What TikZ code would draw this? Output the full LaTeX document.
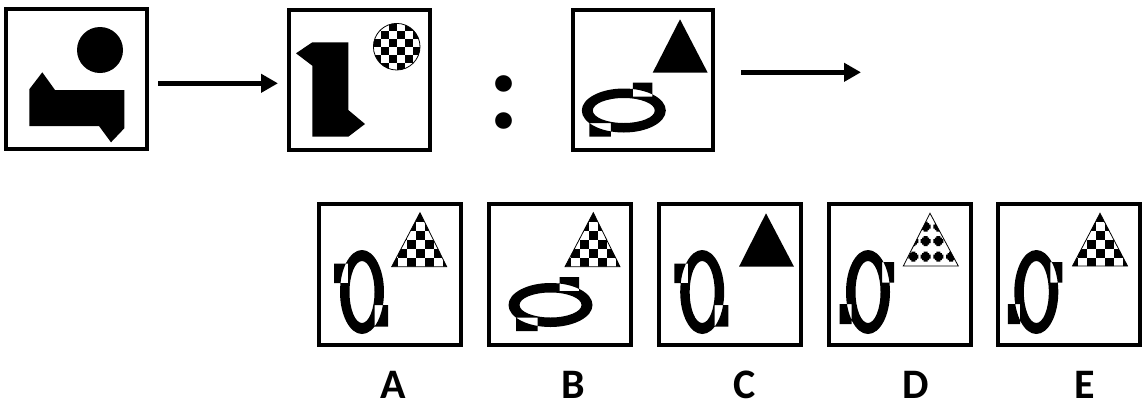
\documentclass[tikz,border=0pt]{standalone}
\usepackage{fontspec}
\setmainfont{Carlito}
\usetikzlibrary{arrows.meta}

% black squares of a checkerboard, cell (0,0) black at (#1,#2)
\newcommand\checkers[3]{%
  \foreach \i in {-4,...,4}{\foreach \j in {-4,...,5}{%
    \pgfmathtruncatemacro\cellpar{mod(\i+\j+10,2)}%
    \ifnum\cellpar=0 \fill (#1+\i*#3,#2+\j*#3) rectangle ++(#3,#3);\fi}}}

\tikzset{
  ring h/.pic={\fill[even odd rule] (0,0) ellipse[x radius=42, y radius=22]
      (0,0) ellipse[x radius=31, y radius=12.5]
      (9,-27.8) rectangle (28.5,-14) (-34.5,12.5) rectangle (-13,26.2);},
  ring v/.pic={\fill[even odd rule] (0,0) ellipse[x radius=22, y radius=42]
      (0,0) ellipse[x radius=12.5, y radius=31]
      (-27.8,-28.5) rectangle (-14,-9) (12.5,13) rectangle (26.2,34.5);},
  ring vm/.pic={\fill[even odd rule] (0,0) ellipse[x radius=22, y radius=42]
      (0,0) ellipse[x radius=12.5, y radius=31]
      (14,-30) rectangle (26,-9.5) (-28.5,12) rectangle (-16.3,32);},
  blob/.pic={\fill (-5,-2) rectangle (5,2) (-2,-5) rectangle (2,5) (-3.5,-3.5) rectangle (3.5,3.5);},
}

\begin{document}
\begin{tikzpicture}[
  x=1pt, y=-1pt,
  panel/.style={draw, line width=4pt, minimum width=141pt, minimum height=140pt, inner sep=0pt},
  opt/.style={panel, minimum width=142pt, minimum height=141.6pt},
  arr/.style={-{Triangle[length=17pt,width=18pt]}, line width=4.5pt},
  lbl/.style={font=\fontsize{42}{42}\selectfont\bfseries, anchor=base, inner sep=0pt},
]
\useasboundingbox (0,0) rectangle (1142,405);

% ---- question row ----
\node[panel] (q1) at (76.5,79) {};
\node[panel] (q2) at (359.2,79.5) {};
\node[panel, minimum width=140.3pt] (q3) at (642.9,79.5) {};
\node[font=\fontsize{112}{112}\selectfont\bfseries, anchor=base, inner sep=0pt] (colon) at (504.3,128.3) {:};
\coordinate (tip) at (861,72.3);
\draw[arr, shorten <=9pt, shorten >=8.7pt] (q1.east |- 0,83.3) -- (q2.west |- 0,83.3);
\draw[arr, shorten <=26pt] (q3.east |- tip) -- (tip);

% figure 1
\fill (100,50) circle[radius=23];
\fill (29.3,89.3) -- (42.3,72.3) -- (55,90) -- (124.3,90) -- (124.3,128.3)
  -- (111,142.3) -- (99,126) -- (29.3,126) -- cycle;
% figure 2
\fill (296,53.3) -- (312.3,42.3) -- (348.3,42.3) -- (348.3,110) -- (365,124)
  -- (348.3,136.7) -- (312.3,136.7) -- (312.3,65.7) -- cycle;
\begin{scope}
  \clip (396.7,46.7) circle[radius=23.3];
  \checkers{396.7}{46.7}{8}
\end{scope}
\draw[line width=0.8pt] (396.7,46.7) circle[radius=23.3];
% figure 3
\fill (680,19.3) -- (652.7,72.7) -- (707.7,72.7) -- cycle;
\pic at (623.8,110.5) {ring h};

% ---- options ----
\foreach \n/\x/\l in {a/390.3/A, b/560.3/B, c/730.3/C, d/899.7/D, e/1068.5/E}
  \node[opt] (\n) at (\x,274.5) {};
\foreach \n/\x/\l in {a/393.3/A, b/573.3/B, c/745/C, d/916/D, e/1085/E}
  \node[lbl] (l\n) at (\x,398.5) {\l};

% A
\begin{scope}
  \clip (420,212.7) -- (391.7,266.7) -- (446.7,266.7) -- cycle;
  \checkers{415.5}{212.7}{9}
\end{scope}
\draw[line width=0.8pt] (420,212.7) -- (391.7,266.7) -- (446.7,266.7) -- cycle;
\pic at (362,292) {ring v};
% B
\begin{scope}
  \clip (593.3,212.7) -- (565,266.7) -- (620,266.7) -- cycle;
  \checkers{588.8}{212.7}{9}
\end{scope}
\draw[line width=0.8pt] (593.3,212.7) -- (565,266.7) -- (620,266.7) -- cycle;
\pic at (550.5,305) {ring h};
% C
\fill (766,213.3) -- (739,266.7) -- (794,266.7) -- cycle;
\pic at (702.2,292) {ring v};
% D
\begin{scope}
  \clip (930,213.3) -- (903.3,266) -- (958.3,266) -- cycle;
  \foreach \dx in {-16.7,-4.3,8.3,21}
    \foreach \dy in {13.4,27.7,43.4}
      \pic at (930+\dx,213.3+\dy) {blob};
\end{scope}
\draw[line width=0.8pt] (930,213.3) -- (903.3,266) -- (958.3,266) -- cycle;
\pic at (868,292) {ring vm};
% E
\begin{scope}
  \clip (1100,213.3) -- (1072.5,266) -- (1127.5,266) -- cycle;
  \checkers{1095.5}{213.3}{9}
\end{scope}
\draw[line width=0.8pt] (1100,213.3) -- (1072.5,266) -- (1127.5,266) -- cycle;
\pic at (1036.3,292) {ring vm};
\end{tikzpicture}
\end{document}
